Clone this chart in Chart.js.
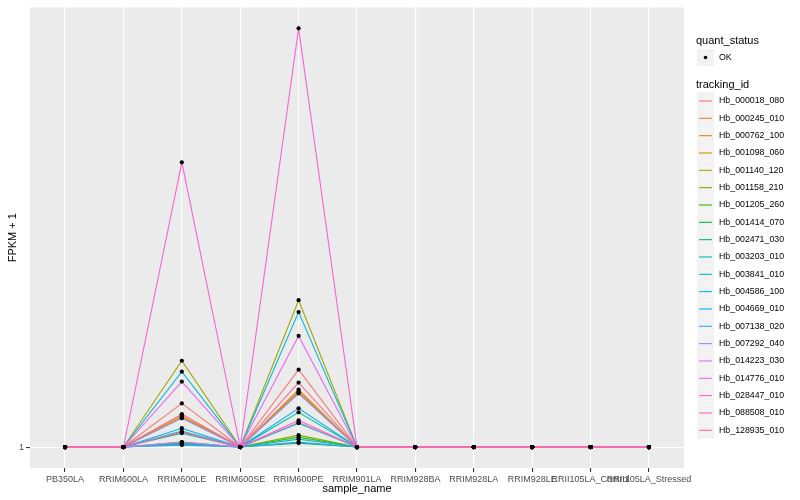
<!DOCTYPE html>
<html>
<head>
<meta charset="utf-8">
<script src="https://cdn.jsdelivr.net/npm/chart.js@4.4.1/dist/chart.umd.min.js"></script>
<style>
html,body{margin:0;padding:0;background:#fff;}
#wrap{width:800px;height:500px;}
</style>
</head>
<body>
<div id="wrap"><canvas id="c" width="800" height="500"></canvas></div>
<script>
const categories = ["PB350LA","RRIM600LA","RRIM600LE","RRIM600SE","RRIM600PE","RRIM901LA","RRIM928BA","RRIM928LA","RRIM928LE","RRII105LA_Control","RRII105LA_Stressed"];
const trackingIds = ["Hb_000018_080","Hb_000245_010","Hb_000762_100","Hb_001098_060","Hb_001140_120","Hb_001158_210","Hb_001205_260","Hb_001414_070","Hb_002471_030","Hb_003203_010","Hb_003841_010","Hb_004586_100","Hb_004669_010","Hb_007138_020","Hb_007292_040","Hb_014223_030","Hb_014776_010","Hb_028447_010","Hb_088508_010","Hb_128935_010"];
const yTickValues = [1];
const yTickLabels = ["1"];
const quantStatus = ["OK"];

// FPKM + 1 per tracking_id, one value per sample
const Hb_000018_080 = [1,1,1.0044,1,1.0078,1,1,1,1,1,1];
const Hb_000245_010 = [1,1,1.0033,1,1.0058,1,1,1,1,1,1];
const Hb_000762_100 = [1,1,1.0031,1,1.0056,1,1,1,1,1,1];
const Hb_001098_060 = [1,1,1.0030,1,1.0055,1,1,1,1,1,1];
const Hb_001140_120 = [1,1,1.0087,1,1.0148,1,1,1,1,1,1];
const Hb_001158_210 = [1,1,1.0005,1,1.0012,1,1,1,1,1,1];
const Hb_001205_260 = [1,1,1.0004,1,1.0010,1,1,1,1,1,1];
const Hb_001414_070 = [1,1,1.0003,1,1.0004,1,1,1,1,1,1];
const Hb_002471_030 = [1,1,1.0014,1,1.0024,1,1,1,1,1,1];
const Hb_003203_010 = [1,1,1.0016,1,1.0035,1,1,1,1,1,1];
const Hb_003841_010 = [1,1,1.0003,1,1.0008,1,1,1,1,1,1];
const Hb_004586_100 = [1,1,1.0076,1,1.0136,1,1,1,1,1,1];
const Hb_004669_010 = [1,1,1.0019,1,1.0039,1,1,1,1,1,1];
const Hb_007138_020 = [1,1,1.0002,1,1.0005,1,1,1,1,1,1];
const Hb_007292_040 = [1,1,1.0029,1,1.0054,1,1,1,1,1,1];
const Hb_014223_030 = [1,1,1.0005,1,1.0025,1,1,1,1,1,1];
const Hb_014776_010 = [1,1,1.0066,1,1.0112,1,1,1,1,1,1];
const Hb_028447_010 = [1,1,1.0287,1,1.0422,1,1,1,1,1,1];
const Hb_088508_010 = [1,1,1.0015,1,1.0027,1,1,1,1,1,1];
const Hb_128935_010 = [1,1,1.0033,1,1.0065,1,1,1,1,1,1];

const seriesValues = [Hb_000018_080,Hb_000245_010,Hb_000762_100,Hb_001098_060,Hb_001140_120,Hb_001158_210,Hb_001205_260,Hb_001414_070,Hb_002471_030,Hb_003203_010,Hb_003841_010,Hb_004586_100,Hb_004669_010,Hb_007138_020,Hb_007292_040,Hb_014223_030,Hb_014776_010,Hb_028447_010,Hb_088508_010,Hb_128935_010];

const seriesColors = ["#F8766D","#EA8331","#D89000","#C09B00","#A3A500","#7CAE00","#39B600","#00BB4E","#00BF7D","#00C1A3","#00BFC4","#00BAE0","#00B0F6","#35A2FF","#9590FF","#C77CFF","#E76BF3","#FA62DB","#FF62BC","#FF6C91"];

const FONT = "'Liberation Sans', Arial, Helvetica, sans-serif";
Chart.defaults.font.family = FONT;

let allVals = seriesValues.flat();
const yMinD = Math.min(...allVals), yMaxD = Math.max(...allVals);
const ySpan = yMaxD - yMinD;

const datasets = [];
const pts = [];
seriesValues.forEach(vals => vals.forEach((v,i)=>pts.push({x:i,y:v})));
datasets.push({
  label:'points', data:pts, showLine:false, pointRadius:2.1, pointHoverRadius:2.1,
  pointBackgroundColor:'#000', pointBorderWidth:0, borderColor:'#000', order:0
});
seriesValues.forEach((vals,k)=>{
  datasets.push({
    label: trackingIds[k],
    data: vals.map((v,i)=>({x:i,y:v})),
    borderColor: seriesColors[k],
    backgroundColor: seriesColors[k],
    borderWidth: 1.1,
    pointRadius: 0,
    tension: 0,
    fill:false,
    order: seriesValues.length - k
  });
});

const bgPlugin = {
  id:'bg',
  beforeDraw(chart){
    const {ctx, chartArea:a} = chart;
    ctx.save();
    ctx.fillStyle='#FFFFFF';
    ctx.fillRect(0,0,chart.width,chart.height);
    ctx.fillStyle='#EBEBEB';
    ctx.fillRect(a.left,a.top,a.right-a.left,a.bottom-a.top);
    ctx.restore();
  },
  afterDraw(chart){
    const {ctx, chartArea:a} = chart;
    ctx.save();
    ctx.fillStyle='#000';
    ctx.font = "11px " + FONT;
    ctx.textAlign='center';
    ctx.textBaseline='middle';
    ctx.fillText('sample_name', (a.left+a.right)/2, 489);
    ctx.save();
    ctx.translate(13,(a.top+a.bottom)/2);
    ctx.rotate(-Math.PI/2);
    ctx.fillText('FPKM + 1',0,0);
    ctx.restore();
    const lx = 696;
    ctx.textAlign='left';
    ctx.fillText('quant_status', lx, 41);
    ctx.fillStyle='#F2F2F2';
    ctx.fillRect(697,49,17,17);
    ctx.fillStyle='#000';
    ctx.beginPath(); ctx.arc(705.5,57.5,1.8,0,Math.PI*2); ctx.fill();
    ctx.font = "8.8px " + FONT;
    ctx.fillText(quantStatus[0], 719, 57.5);
    ctx.font = "11px " + FONT;
    ctx.fillText('tracking_id', lx, 84.5);
    ctx.font = "8.8px " + FONT;
    trackingIds.forEach((id,k)=>{
      const cy = 101 + k*17.33;
      ctx.fillStyle='#F2F2F2';
      ctx.fillRect(697,cy-8.5,17,17);
      ctx.strokeStyle=seriesColors[k];
      ctx.lineWidth=1.1;
      ctx.beginPath(); ctx.moveTo(699,cy); ctx.lineTo(712,cy); ctx.stroke();
      ctx.fillStyle='#000';
      ctx.fillText(id, 719, cy);
    });
    ctx.restore();
  }
};

new Chart(document.getElementById('c'), {
  type:'line',
  data:{datasets},
  options:{
    responsive:false,
    devicePixelRatio:1,
    animation:false,
    layout:{padding:{left:0,top:3,right:116,bottom:0}},
    plugins:{legend:{display:false}, tooltip:{enabled:false}},
    events:[],
    scales:{
      x:{
        type:'linear',
        min:-0.6, max:categories.length-1+0.6,
        afterBuildTicks(s){ s.ticks = categories.map((c,i)=>({value:i})); },
        afterFit(s){ s.height = 32; },
        grid:{color:'#FFFFFF', lineWidth:1.1, tickColor:'#333333', tickLength:4, drawTicks:true},
        border:{display:false},
        ticks:{
          autoSkip:false, maxRotation:0, minRotation:0, padding:2,
          color:'#4D4D4D', font:{size:9},
          callback:(v)=>categories[Math.round(v)]
        }
      },
      y:{
        type:'linear',
        min: yMinD - 0.05*ySpan, max: yMaxD + 0.05*ySpan,
        afterBuildTicks(s){ s.ticks = yTickValues.map(v=>({value:v})); },
        afterFit(s){ s.width = 30; },
        grid:{color:'#FFFFFF', lineWidth:1.1, tickColor:'#333333', tickLength:4},
        border:{display:false},
        ticks:{
          padding:2, color:'#4D4D4D', font:{size:9},
          callback:(v)=>yTickLabels[yTickValues.indexOf(v)] ?? ''
        }
      }
    }
  },
  plugins:[bgPlugin]
});
</script>
</body>
</html>
